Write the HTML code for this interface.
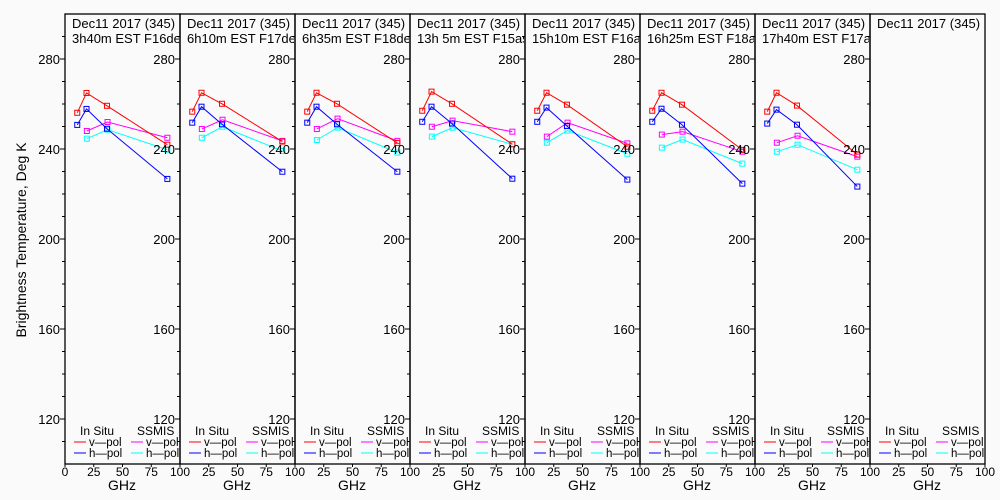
<!DOCTYPE html>
<html><head><meta charset="utf-8"><style>
body{margin:0;background:#fafafa;}
svg{display:block;font-family:"Liberation Sans",sans-serif;}
text{fill:#000;}
</style></head><body>
<svg id="chart" width="1000" height="500"></svg>
<script>
const titles1 = ["Dec11 2017 (345)","Dec11 2017 (345)","Dec11 2017 (345)","Dec11 2017 (345)","Dec11 2017 (345)","Dec11 2017 (345)","Dec11 2017 (345)","Dec11 2017 (345)"];
const titles2 = ["3h40m EST F16des","6h10m EST F17des","6h35m EST F18des","13h 5m EST F15asc","15h10m EST F16asc","16h25m EST F18asc","17h40m EST F17asc",""];
const insituFreq = [10.65, 18.7, 36.5, 89];
const ssmisFreq = [19, 37, 89];
const insituV = [[256.1,264.9,259.2,241.9],[256.6,265.0,260.1,243.3],[256.6,265.0,260.1,242.7],[257.0,265.5,260.1,242.1],[257.0,265.0,259.7,241.0],[257.0,265.0,259.7,239.6],[256.6,265.0,259.3,237.5],null];
const insituH = [[250.7,257.8,249.0,226.7],[251.7,258.8,251.0,229.9],[251.7,258.8,251.0,229.9],[252.1,258.8,251.3,226.8],[252.1,258.4,250.2,226.4],[252.1,257.9,250.8,224.6],[251.3,257.5,250.8,223.3],null];
const ssmisV = [[248.0,252.0,245.0],[248.9,253.0,243.6],[248.9,253.5,243.6],[249.9,252.6,247.7],[245.5,251.7,242.5],[246.4,247.7,238.8],[242.8,245.9,236.6],null];
const ssmisH = [[244.6,248.6,239.7],[245.0,249.9,239.1],[244.0,249.5,238.4],[245.5,249.5,242.1],[242.8,248.2,237.9],[240.6,244.2,233.5],[238.8,241.9,230.8],null];
const yTickLabels = [120,160,200,240,280];
const xTickLabels = [0,25,50,75,100];

const NS="http://www.w3.org/2000/svg";
const svg=document.getElementById('chart');
function mk(tag,attrs,parent){const e=document.createElementNS(NS,tag);for(const k in attrs)e.setAttribute(k,attrs[k]);(parent||svg).appendChild(e);return e;}
const left0=65, pw=115, plotTop=14, plotBot=464;
const yScale=v=>plotTop+(300-v)*(plotBot-plotTop)/200;
function xScale(i,f){return left0+i*pw+f*pw/100;}
const defs=mk('defs',{});

const ytitle=mk('text',{x:26,y:240,'font-size':14,'text-anchor':'middle',transform:'rotate(-90 26 240)'});
ytitle.textContent="Brightness Temperature, Deg K";



function series(g,i,freqs,vals,color,name){
  const pts=vals.map((v,k)=>[xScale(i,freqs[k]),yScale(v)]);
  const pl=mk('polyline',{points:pts.map(p=>p.join(',')).join(' '),fill:'none',stroke:color,'stroke-width':1},g);
  
  
  pts.forEach(p=>{const r=mk('rect',{x:p[0]-2.5,y:p[1]-2.5,width:5,height:5,fill:'none',stroke:color,'stroke-width':1},g);
    
    });
}

for(let i=0;i<8;i++){
  const x0=left0+i*pw;
  const cp=mk('clipPath',{id:'cp'+i},defs);
  mk('rect',{x:x0,y:0,width:pw-1,height:60},cp);
  const g=mk('g',{});
  
  
  mk('rect',{x:x0,y:plotTop,width:pw,height:plotBot-plotTop,fill:'none',stroke:'#000','stroke-width':1.3},g);
  for(let v=110;v<=290;v+=10){const y=yScale(v);const major=(v%40===0);
    mk('line',{x1:x0-(major?5:3),x2:x0,y1:y,y2:y,stroke:'#000','stroke-width':1},g);}
  yTickLabels.forEach(v=>{const t=mk('text',{x:x0-5,y:yScale(v)+5,'font-size':13,'text-anchor':'end'},g);t.textContent=v;
    
    });
  xTickLabels.forEach(v=>{const x=xScale(i,v);
    mk('line',{x1:x,x2:x,y1:plotBot,y2:plotBot+3,stroke:'#000','stroke-width':1},g);
    if(!(v===0&&i>0)){const t=mk('text',{x:x,y:plotBot+12,'font-size':12,'text-anchor':'middle'},g);t.textContent=v;
    
    }});
  const gx=mk('text',{x:x0+57,y:490,'font-size':14,'text-anchor':'middle'},g);gx.textContent="GHz";
  
  
  const tg=mk('g',{'clip-path':'url(#cp'+i+')'},g);
  const t1=mk('text',{x:x0+7,y:28,'font-size':13},tg);t1.textContent=titles1[i];
  
  
  const t2=mk('text',{x:x0+7,y:43,'font-size':13},tg);t2.textContent=titles2[i];
  
  
  if(insituV[i]){
    series(g,i,ssmisFreq,ssmisH[i],'#00ffff','ssmis-h-pol');
    series(g,i,ssmisFreq,ssmisV[i],'#ff00ff','ssmis-v-pol');
    series(g,i,insituFreq,insituH[i],'#0000ff','insitu-h-pol');
    series(g,i,insituFreq,insituV[i],'#ff0000','insitu-v-pol');
  }
  const lg=mk('g',{},g);
  
  
  const a=mk('text',{x:x0+15,y:435,'font-size':12},lg);a.textContent="In Situ";
  const b=mk('text',{x:x0+72,y:435,'font-size':12},lg);b.textContent="SSMIS";
  [['#ff0000','v\u2014pol',x0+9,446],['#0000ff','h\u2014pol',x0+9,457],['#ff00ff','v\u2014pol',x0+66,446],['#00ffff','h\u2014pol',x0+66,457]].forEach(r=>{
    const l=mk('line',{x1:r[2],x2:r[2]+12,y1:r[3]-4,y2:r[3]-4,stroke:r[0],'stroke-width':1},lg);
    
    
    const t=mk('text',{x:r[2]+15,y:r[3],'font-size':11.5},lg);t.textContent=r[1];
    
    
  });
}
</script>
</body></html>
